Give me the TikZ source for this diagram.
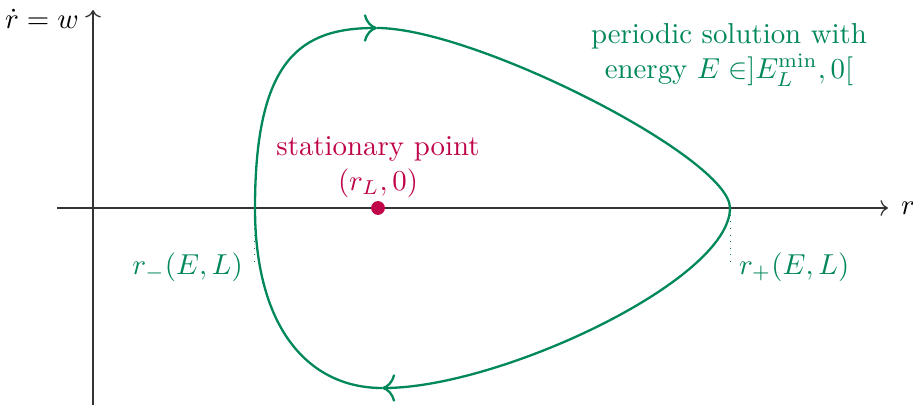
\documentclass[tikz,border=0pt]{standalone}
\usetikzlibrary{arrows.meta}
\definecolor{orbitgreen}{HTML}{00875A}
\definecolor{stationred}{HTML}{C0044A}

\begin{document}
\begin{tikzpicture}[
  x=0.3466pt,
  y=-0.3466pt,
  line join=round,
  axis/.style={draw=black!80,line width=0.45pt,->},
  orbit/.style={draw=orbitgreen,line width=0.8pt},
  flow/.style={-{To[scale=1.35]}},
  marker/.style={draw=orbitgreen,line width=0.3pt,dotted},
  orbitlabel/.style={text=orbitgreen,align=center},
  pointlabel/.style={text=stationred,align=center}
]
  \useasboundingbox (0,0) rectangle (913,407);

  % Phase plane axes.
  \coordinate (xstart) at (57,208);
  \coordinate (xend) at (888,208);
  \coordinate (ystart) at (93,405);
  \coordinate (yend) at (93,10);
  \draw[axis] (xstart) -- (xend);
  \draw[axis] (ystart) -- (yend);
  \node[anchor=west] (rlabel) at (891,208) {$r$};
  \node[anchor=east] (wlabel) at (89,19) {$\dot r = w$};

  % Turning points and extremal velocities of the orbit.
  \coordinate (rminus) at (255,208);
  \coordinate (rplus) at (730,208);
  \coordinate (top) at (377,28);
  \coordinate (bottom) at (382,388);

  % Closed orbit, traversed clockwise.
  \draw[orbit,flow] (rminus) .. controls (255,60) and (300,28) .. (top);
  \draw[orbit] (top) .. controls (475,28) and (730,158) .. (rplus);
  \draw[orbit,flow] (rplus) .. controls (730,280) and (500,388) .. (bottom);
  \draw[orbit] (bottom) .. controls (310,388) and (255,330) .. (rminus);

  % Dotted drops to the turning point labels.
  \coordinate (rminusfoot) at (254,264);
  \coordinate (rplusfoot) at (730,264);
  \draw[marker] (254,208) -- (rminusfoot);
  \draw[marker] (rplus) -- (rplusfoot);
  \node[orbitlabel,anchor=east] (rminuslabel) at (253,267) {$r_-(E,L)$};
  \node[orbitlabel,anchor=west] (rpluslabel) at (729,267) {$r_+(E,L)$};

  % Stationary point.
  \coordinate (rL) at (378,208);
  \fill[stationred] (rL) circle[radius=2.4pt];
  \node[pointlabel,above] (stationlabel) at (rL) {stationary point\\$(r_L,0)$};

  \node[orbitlabel] (periodiclabel) at (729,55)
    {periodic solution with\\energy $E\in]E_L^{\min},0[$};
\end{tikzpicture}
\end{document}
